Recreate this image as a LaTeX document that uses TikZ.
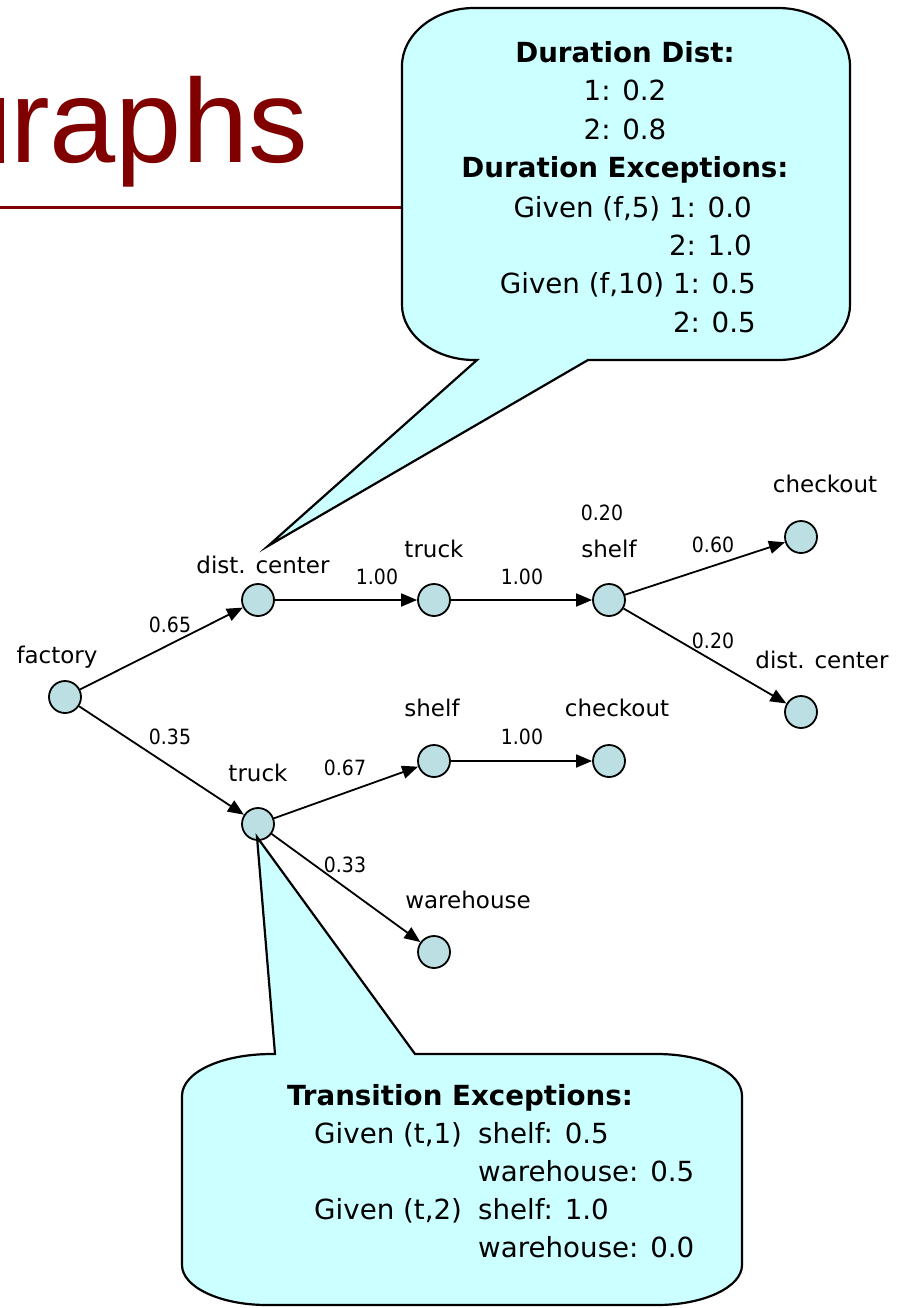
\documentclass[tikz,border=0pt]{standalone}
\usepackage{fontspec}
\setmainfont{DejaVu Sans}
\newfontfamily\titlefont{Liberation Sans}
\newfontfamily\probfont[FakeStretch=0.9]{DejaVu Sans}
\usetikzlibrary{arrows.meta}

\definecolor{titlered}{RGB}{128,0,0}
\definecolor{statefill}{RGB}{187,223,226}
\definecolor{calloutfill}{RGB}{204,255,255}

\tikzset{
  state/.style={circle, draw=black, line width=1.8pt, fill=statefill,
                minimum size=32pt, inner sep=0pt},
  lbl/.style={anchor=base, inner sep=0pt, font=\fontsize{23}{27}\selectfont},
  prob/.style={anchor=base, inner sep=0pt, font=\probfont\fontsize{21}{24}\selectfont},
  edge/.style={line width=1.8pt, -{Triangle[length=16pt,width=13pt]}},
  callout/.style={draw=black, line width=2.2pt, fill=calloutfill, line join=miter},
  ctext/.style={inner sep=0pt, font=\fontsize{27.7}{33}\selectfont},
  chead/.style={inner sep=0pt, font=\fontsize{27.7}{33}\selectfont\bfseries},
}

\begin{document}
\begin{tikzpicture}[x=1pt,y=-1pt]
\useasboundingbox (0,0) rectangle (902,1308);

% slide title and rule
\fill[titlered] (0,98) rectangle (4,163);
\node[anchor=base west, inner sep=0pt, text=titlered,
      font=\titlefont\fontsize{119}{130}\selectfont] (title) at (10,163) {raphs};
\draw[titlered, line width=3pt] (0,207) -- (402,207);

% states
\node[state] (fac) at (65,697) {};
\node[state] (dc1) at (258,600) {};
\node[state] (tr1) at (434,600) {};
\node[state] (sh1) at (609,600) {};
\node[state] (co1) at (801,537) {};
\node[state] (dc2) at (801,712) {};
\node[state] (sh2) at (434,761) {};
\node[state] (co2) at (609,761) {};
\node[state] (tr2) at (258,824) {};
\node[state] (wh)  at (434,952) {};

% state names
\node[lbl] (lfac) at (57,663) {factory};
\node[lbl] (ldc1) at (263,573) {dist. center};
\node[lbl] (ltr1) at (434,557) {truck};
\node[lbl] (lsh1) at (609,557) {shelf};
\node[lbl] (lco1) at (825,492) {checkout};
\node[lbl] (ldc2) at (822,668) {dist. center};
\node[lbl] (lsh2) at (432,716) {shelf};
\node[lbl] (lco2) at (617,716) {checkout};
\node[lbl] (ltr2) at (258,781) {truck};
\node[lbl] (lwh)  at (468,908) {warehouse};

% transitions
\draw[edge] (fac) -- (dc1);
\draw[edge] (fac) -- (tr2);
\draw[edge] (dc1) -- (tr1);
\draw[edge] (tr1) -- (sh1);
\draw[edge] (sh1) -- (co1);
\draw[edge] (sh1) -- (dc2);
\draw[edge] (tr2) -- (sh2);
\draw[edge] (tr2) -- (wh);
\draw[edge] (sh2) -- (co2);

% transition probabilities
\node[prob] (p1) at (170,632) {0.65};
\node[prob] (p2) at (170,744) {0.35};
\node[prob] (p3) at (377,584) {1.00};
\node[prob] (p4) at (522,584) {1.00};
\node[prob] (p5) at (602,520) {0.20};
\node[prob] (p6) at (713,552) {0.60};
\node[prob] (p7) at (713,648) {0.20};
\node[prob] (p8) at (345,775) {0.67};
\node[prob] (p9) at (522,744) {1.00};
\node[prob] (p10) at (345,872) {0.33};

% duration callout
\draw[callout]
  (402,66) .. controls (402,34) and (435,8) .. (474,8)
  -- (778,8) .. controls (818,8) and (850,34) .. (850,66)
  -- (850,305) .. controls (850,335) and (818,360) .. (778,360)
  -- (588,360) -- (268,546) -- (477,360) -- (474,360)
  .. controls (435,360) and (402,335) .. (402,305) -- cycle;

\node[chead, anchor=base] (d1) at (625,63) {Duration Dist:};
\node[ctext, anchor=base] (d2) at (625,101) {1: 0.2};
\node[ctext, anchor=base] (d3) at (625,140) {2: 0.8};
\node[chead, anchor=base] (d4) at (625,178) {Duration Exceptions:};
\node[ctext, anchor=base east] (d5) at (752,217) {Given (f,5) 1: 0.0};
\node[ctext, anchor=base east] (d6) at (752,255) {2: 1.0};
\node[ctext, anchor=base east] (d7) at (756,293) {Given (f,10) 1: 0.5};
\node[ctext, anchor=base east] (d8) at (756,332) {2: 0.5};

% transition callout
\draw[callout]
  (182,1096) .. controls (182,1072) and (222,1054) .. (272,1054)
  -- (275,1054) -- (257,837) -- (415,1054)
  -- (657,1054) .. controls (704,1054) and (742,1072) .. (742,1096)
  -- (742,1265) .. controls (742,1287) and (704,1305) .. (657,1305)
  -- (267,1305) .. controls (220,1305) and (182,1287) .. (182,1265) -- cycle;

\node[chead, anchor=base] (t1) at (460,1105) {Transition Exceptions:};
\node[ctext, anchor=base west] (t2) at (314,1143) {Given (t,1)};
\node[ctext, anchor=base west] (t3) at (478,1143) {shelf: 0.5};
\node[ctext, anchor=base west] (t4) at (478,1181) {warehouse: 0.5};
\node[ctext, anchor=base west] (t5) at (314,1219) {Given (t,2)};
\node[ctext, anchor=base west] (t6) at (478,1219) {shelf: 1.0};
\node[ctext, anchor=base west] (t7) at (478,1257) {warehouse: 0.0};
\end{tikzpicture}
\end{document}
